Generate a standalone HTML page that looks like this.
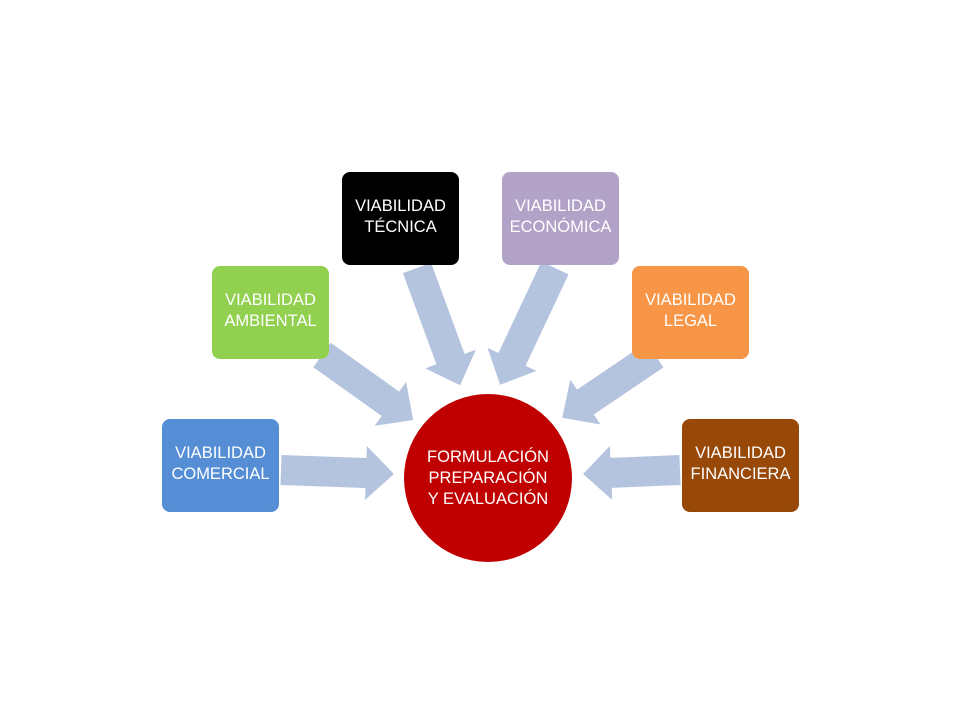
<!DOCTYPE html>
<html><head><meta charset="utf-8"><style>
body{margin:0;width:960px;height:720px;background:#fff;position:relative;overflow:hidden;font-family:"Liberation Sans",sans-serif}
.b{position:absolute;width:117px;height:93px;border-radius:8px;color:#fff;font-size:16.5px;line-height:21px;display:flex;align-items:center;justify-content:center;text-align:center;box-sizing:border-box;padding-bottom:3px}
.c{position:absolute;left:404px;top:394px;width:168px;height:168px;border-radius:50%;background:#c00000;color:#fff;font-size:16.5px;line-height:21px;display:flex;align-items:center;justify-content:center;text-align:center}
svg{position:absolute;left:0;top:0}
</style></head><body>
<svg width="960" height="720">
<g fill="#b4c4df">
<g transform="translate(281,470) rotate(2)"><polygon points="0,-15 85,-15 85,-27 113,0 85,27 85,15 0,15"/></g>
<g transform="translate(322,355) rotate(35.5)"><polygon points="0,-15 84,-15 84,-27 112,0 84,27 84,15 0,15"/></g>
<g transform="translate(417,268) rotate(69.8)"><polygon points="0,-15 97,-15 97,-27 125,0 97,27 97,15 0,15"/></g>
<g transform="translate(555,268) rotate(115.2)"><polygon points="0,-15 101,-15 101,-27 129,0 101,27 101,15 0,15"/></g>
<g transform="translate(655,355) rotate(145.9)"><polygon points="0,-15 84,-15 84,-27 112,0 84,27 84,15 0,15"/></g>
<g transform="translate(680,470) rotate(177.6)"><polygon points="0,-15 69,-15 69,-27 97,0 69,27 69,15 0,15"/></g>
</g>
</svg>
<div class="b" style="left:162px;top:419px;background:#558ed5">VIABILIDAD<br>COMERCIAL</div>
<div class="b" style="left:212px;top:266px;background:#92d050">VIABILIDAD<br>AMBIENTAL</div>
<div class="b" style="left:342px;top:172px;background:#000">VIABILIDAD<br>TÉCNICA</div>
<div class="b" style="left:502px;top:172px;background:#b3a2c7">VIABILIDAD<br>ECONÓMICA</div>
<div class="b" style="left:632px;top:266px;background:#f79646">VIABILIDAD<br>LEGAL</div>
<div class="b" style="left:682px;top:419px;background:#984807">VIABILIDAD<br>FINANCIERA</div>
<div class="c">FORMULACIÓN<br>PREPARACIÓN<br>Y EVALUACIÓN</div>
</body></html>
